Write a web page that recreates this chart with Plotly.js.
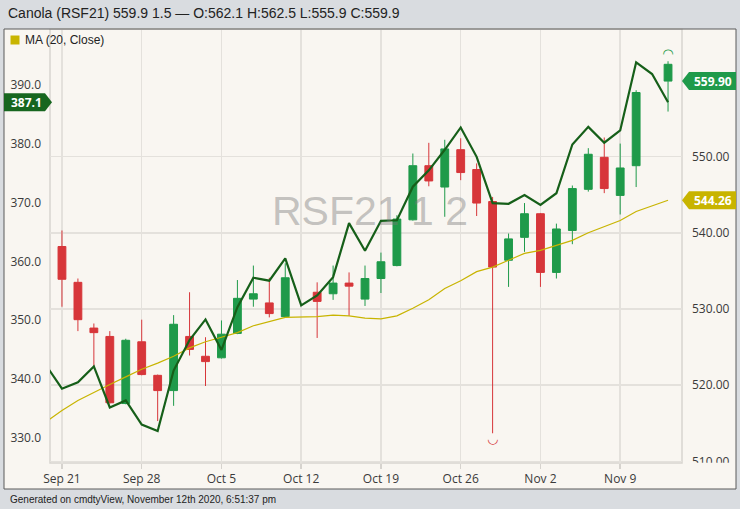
<!DOCTYPE html>
<html>
<head>
<meta charset="utf-8">
<script src="https://cdn.plot.ly/plotly-3.0.1.min.js"></script>
<style>html,body{margin:0;padding:0;background:#d9dce0;}#chart{width:740px;height:509px;}</style>
</head>
<body>
<div id="chart"></div>
<script>
// ---- data ----
const lineDates = ['2020-09-18','2020-09-21','2020-09-22','2020-09-23','2020-09-24','2020-09-25',
  '2020-09-28','2020-09-29','2020-09-30','2020-10-01','2020-10-02',
  '2020-10-05','2020-10-06','2020-10-07','2020-10-08','2020-10-09',
  '2020-10-12','2020-10-13','2020-10-14','2020-10-15','2020-10-16',
  '2020-10-19','2020-10-20','2020-10-21','2020-10-22','2020-10-23',
  '2020-10-26','2020-10-27','2020-10-28','2020-10-29','2020-10-30',
  '2020-11-02','2020-11-03','2020-11-04','2020-11-05','2020-11-06',
  '2020-11-09','2020-11-10','2020-11-11','2020-11-12'];
const lineValues = [342.3,338.3,339.4,342.1,335.1,336.3,
  332.2,331.1,341.4,346.6,350.1,
  344.9,352.2,357.2,356.7,360.5,
  352.5,354.2,357.3,366.5,361.8,
  366.9,367.0,372.7,375.5,379.0,
  382.8,377.8,369.9,369.8,371.3,
  369.6,371.6,379.9,382.9,380.2,
  382.3,393.9,391.9,387.1];

const candleDates = ['2020-09-21','2020-09-22','2020-09-23','2020-09-24','2020-09-25',
  '2020-09-28','2020-09-29','2020-09-30','2020-10-01','2020-10-02',
  '2020-10-05','2020-10-06','2020-10-07','2020-10-08','2020-10-09',
  '2020-10-13','2020-10-14','2020-10-15','2020-10-16',
  '2020-10-19','2020-10-20','2020-10-21','2020-10-22','2020-10-23',
  '2020-10-26','2020-10-27','2020-10-28','2020-10-29','2020-10-30',
  '2020-11-02','2020-11-03','2020-11-04','2020-11-05','2020-11-06',
  '2020-11-09','2020-11-10','2020-11-12'];
const opens  = [538.2,533.5,527.5,526.4,517.6, 525.7,521.3,519.3,526.4,523.8, 523.6,526.8,531.3,530.8,529.0,
  532.2,532.0,533.4,531.3, 534.0,535.7,541.7,548.8,546.0, 550.9,548.3,544.1,536.4,539.4,
  542.5,534.8,540.3,545.7,549.9, 544.9,548.8,562.1];
const highs  = [540.3,534.0,528.1,527.1,526.1, 528.6,521.4,529.2,532.2,526.3, 528.5,533.8,535.7,534.1,536.0,
  533.5,535.7,534.8,535.7, 537.4,542.3,550.4,551.8,552.2, 552.4,549.1,544.7,539.9,543.9,
  542.6,541.2,546.2,551.1,552.5, 551.7,558.7,562.5];
const lows   = [530.3,527.1,522.4,517.6,517.5, 521.3,515.3,517.3,523.9,519.9, 523.5,526.7,530.3,528.9,528.9,
  526.2,531.2,529.1,530.4, 532.1,535.6,541.6,546.1,542.1, 546.9,542.2,513.7,532.9,537.5,
  532.9,534.0,538.5,545.4,545.2, 542.4,546.0,555.9];
const closes = [533.9,528.6,526.9,517.7,525.9, 521.4,519.3,528.0,524.7,523.1, 526.7,531.4,532.0,529.4,534.1,
  531.0,533.4,533.0,534.0, 536.2,541.8,548.8,546.8,551.0, 547.9,543.9,535.5,539.2,542.5,
  534.8,540.5,545.8,550.3,545.8, 548.5,558.4,559.9];

const maDates = ['2020-09-18'].concat(candleDates);
const maValues = [515.2,516.7,518.0,519.1,520.1,521.1, 522.1,522.9,523.8,524.9,525.7,
  526.3,526.9,527.8,528.4,528.9, 529.0,529.2,529.1,528.8,
  528.7,529.1,530.1,531.2,532.7, 533.7,534.9,535.5,536.4,537.3,
  537.7,538.3,539.0,540.0,540.8, 541.6,542.8,544.26];

const tickDates  = ['2020-09-21','2020-09-28','2020-10-05','2020-10-12','2020-10-19','2020-10-26','2020-11-02','2020-11-09'];
const tickLabels = ['Sep 21','Sep 28','Oct 5','Oct 12','Oct 19','Oct 26','Nov 2','Nov 9'];
const rightTicks = [510,520,530,540,550];
const leftTicks  = [330,340,350,360,370,380,390];

// ---- derived ----
const lastClose = closes[closes.length-1];
const lastMA = maValues[maValues.length-1];
const lastLine = lineValues[lineValues.length-1];
let hiIdx = 0, loIdx = 0;
highs.forEach((v,i)=>{ if (v > highs[hiIdx]) hiIdx = i; });
lows.forEach((v,i)=>{ if (v < lows[loIdx]) loIdx = i; });

const GREEN = '#1f9a4a', RED = '#d7363a', MA = '#c8b400', DARK = '#165f19', CREAM = '#f9f6f1';

// candles are coloured by change versus the previous close
function pick(up){
  const o = {x:[], open:[], high:[], low:[], close:[]};
  candleDates.forEach((d,i)=>{
    const ref = i > 0 ? closes[i-1] : opens[i];
    if ((closes[i] >= ref) === up){
      o.x.push(d); o.open.push(opens[i]); o.high.push(highs[i]); o.low.push(lows[i]); o.close.push(closes[i]);
    }
  });
  return o;
}
function candleTrace(up){
  const c = up ? GREEN : RED;
  return Object.assign({type:'candlestick', xaxis:'x', yaxis:'y', width:0.68, whiskerwidth:0,
    increasing:{line:{color:c, width:1}, fillcolor:c},
    decreasing:{line:{color:c, width:1}, fillcolor:c},
    hoverinfo:'skip', showlegend:false}, pick(up));
}

const traces = [
  { type:'scatter', mode:'lines', x: maDates, y: maValues, yaxis:'y', xaxis:'x',
    line:{color:MA, width:1.2}, hoverinfo:'skip', showlegend:false },
  candleTrace(true),
  candleTrace(false),
  { type:'scatter', mode:'text', x:[candleDates[loIdx]], y:[lows[loIdx]], text:['\u25E1'],
    textposition:'bottom center', textfont:{family:'DejaVu Sans', size:13, color:RED},
    xaxis:'x', yaxis:'y', hoverinfo:'skip', showlegend:false },
  { type:'scatter', mode:'text', x:[candleDates[hiIdx]], y:[highs[hiIdx]], text:['\u25E0'],
    textposition:'top center', textfont:{family:'DejaVu Sans', size:13, color:GREEN},
    xaxis:'x', yaxis:'y', hoverinfo:'skip', showlegend:false },
  { type:'scatter', mode:'lines', x: lineDates, y: lineValues, xaxis:'x', yaxis:'y2',
    line:{color:DARK, width:2.2}, hoverinfo:'skip', showlegend:false }
];

const tickFont = {family:'Open Sans', size:12, color:'#3a3a3a'};
const px = (x)=> (x-50)/632;        // helper: page x -> paper x
const py = (y)=> (463-y)/433;       // helper: page y -> paper y

const layout = {
  width:740, height:509,
  margin:{l:50, r:58, t:30, b:46},
  paper_bgcolor:'#d9dce0', plot_bgcolor:CREAM,
  showlegend:false,
  title:{text:'Canola (RSF21) 559.9 1.5 \u2014 O:562.1 H:562.5 L:555.9 C:559.9',
    x:8/740, xanchor:'left', xref:'container', y:1-13/509, yref:'container', yanchor:'middle',
    font:{family:'Liberation Sans Narrow, Liberation Sans, Arial', size:14, color:'#222'}},
  xaxis:{type:'category', categoryorder:'array', categoryarray:lineDates,
    range:[0.25, 39.875], tickmode:'array', tickvals:tickDates, ticktext:tickLabels,
    showgrid:true, gridcolor:'#e4e1dc', gridwidth:1.5, ticks:'outside', ticklen:5,
    tickcolor:'#d6d3ce', tickwidth:1.5, tickfont:tickFont, zeroline:false, showline:false,
    rangeslider:{visible:false}, fixedrange:true},
  yaxis:{side:'right', range:[509.8, 566.6], tickmode:'array', tickvals:rightTicks,
    tickformat:'.2f', showgrid:true, gridcolor:'#e4e1dc', gridwidth:1.5, ticks:'',
    ticklabelstandoff:9, tickfont:tickFont, zeroline:false, showline:false, fixedrange:true},
  yaxis2:{side:'left', overlaying:'y', range:[325.65, 399.4], tickmode:'array', tickvals:leftTicks,
    tickformat:'.1f', showgrid:false, ticks:'', ticklabelstandoff:8, tickfont:tickFont,
    zeroline:false, showline:false, fixedrange:true},
  shapes:[
    {type:'rect', xref:'paper', yref:'paper', x0:px(4), x1:px(736), y0:py(489), y1:py(29),
      fillcolor:CREAM, line:{width:0}, layer:'below'},
    {type:'rect', xref:'paper', yref:'paper', x0:0, x1:1, y0:0, y1:py(29),
      fillcolor:'rgba(0,0,0,0)', line:{color:'#d8d5d0', width:1.5}, layer:'below'},
    {type:'rect', xref:'paper', yref:'paper', x0:px(4), x1:px(736), y0:py(489), y1:py(29),
      fillcolor:'rgba(0,0,0,0)', line:{color:'#5a5a5a', width:1}, layer:'below'},
    {type:'rect', xref:'paper', yref:'paper', x0:px(10.5), x1:px(19.5), y0:py(44.5), y1:py(35.5),
      fillcolor:MA, line:{width:0}, layer:'above'},
    {type:'rect', xref:'paper', yref:'paper', x0:px(684), x1:px(735), y0:py(477), y1:py(462.8),
      fillcolor:CREAM, line:{width:0}, layer:'above'},
    // price tags
    {type:'path', xref:'paper', xsizemode:'pixel', xanchor:1, yref:'y', ysizemode:'pixel', yanchor:lastClose,
      path:'M 0 0 L 7 9 L 54 9 L 54 -9 L 7 -9 Z', fillcolor:GREEN, line:{width:0}, layer:'above'},
    {type:'path', xref:'paper', xsizemode:'pixel', xanchor:1, yref:'y', ysizemode:'pixel', yanchor:lastMA,
      path:'M 0 0 L 7 9 L 54 9 L 54 -9 L 7 -9 Z', fillcolor:MA, line:{width:0}, layer:'above'},
    {type:'path', xref:'paper', xsizemode:'pixel', xanchor:0, yref:'y2', ysizemode:'pixel', yanchor:lastLine,
      path:'M 2 0 L -5 9 L -46 9 L -46 -9 L -5 -9 Z', fillcolor:'#17661f', line:{width:0}, layer:'above'}
  ],
  annotations:[
    {xref:'paper', yref:'paper', x:px(370), y:py(211), text:'RSF21 1 2', showarrow:false,
      xanchor:'center', yanchor:'middle',
      font:{family:'Liberation Sans, Arial', size:41, color:'rgba(120,120,120,0.42)'}},
    {xref:'paper', yref:'paper', x:px(23), y:py(40), text:'MA (20, Close)', showarrow:false,
      xanchor:'left', yanchor:'middle', font:{family:'Liberation Sans, Arial', size:12, color:'#222'}},
    {xref:'paper', yref:'paper', x:px(8), y:py(499), text:'Generated on cmdtyView, November 12th 2020, 6:51:37 pm',
      showarrow:false, xanchor:'left', yanchor:'middle', font:{family:'Liberation Sans, Arial', size:10, color:'#222'}},
    {xref:'paper', yref:'y', x:1, y:lastClose, xshift:31, text:'<b>'+lastClose.toFixed(2)+'</b>', showarrow:false,
      xanchor:'center', yanchor:'middle', font:{family:'Open Sans', size:12, color:'#fff'}},
    {xref:'paper', yref:'y', x:1, y:lastMA, xshift:31, text:'<b>'+lastMA.toFixed(2)+'</b>', showarrow:false,
      xanchor:'center', yanchor:'middle', font:{family:'Open Sans', size:12, color:'#fff'}},
    {xref:'paper', yref:'y2', x:0, y:lastLine, xshift:-24, text:'<b>'+lastLine.toFixed(1)+'</b>', showarrow:false,
      xanchor:'center', yanchor:'middle', font:{family:'Open Sans', size:12, color:'#fff'}}
  ]
};

Plotly.newPlot('chart', traces, layout, {staticPlot:true, displayModeBar:false});
</script>
</body>
</html>
